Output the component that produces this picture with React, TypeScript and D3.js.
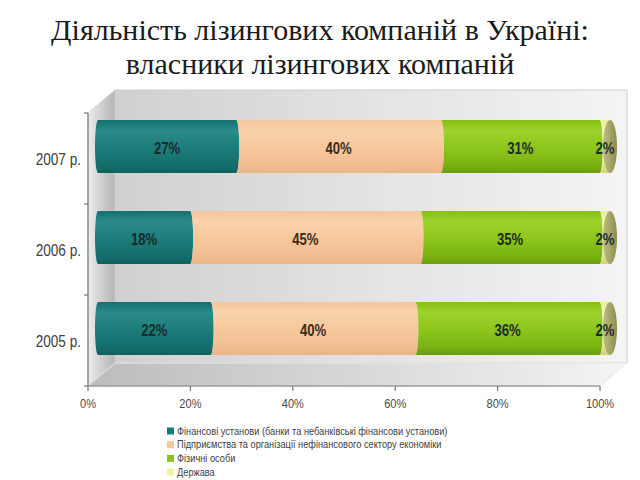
import React from "react";
import * as d3 from "d3";

const categories = ["2007 р.", "2006 р.", "2005 р."];
const seriesNames = [
  "Фінансові установи (банки та небанківські фінансови установи)",
  "Підприємства та організації нефінансового сектору економіки",
  "Фізичні особи",
  "Держава",
];
const financial = [27, 18, 22];
const enterprises = [40, 45, 40];
const individuals = [31, 35, 36];
const stateShare = [2, 2, 2];
const xTicks = [0, 20, 40, 60, 80, 100];
const titleLines = ["Діяльність лізингових компаній в Україні:", "власники лізингових компаній"];

const seriesColors = ["#177a78", "#f6c89e", "#8cc31c", "#f2f2a4"];
const gradStops: string[][] = [
  ["#15706e", "#2a8b89", "#1b7c7a", "#146e6c", "#0f6260"],
  ["#f3c69c", "#f9d2ab", "#f6c79b", "#f1be92", "#e9b488"],
  ["#86bf14", "#9dd32c", "#8bc41a", "#7ab212", "#6a9c0c"],
  ["#ecec9c", "#f6f6bc", "#efef9f", "#e4e48e", "#d2d27c"],
];

const W = 640;
const H = 480;
const ax0 = 88;
const ax1 = 600;
const ayTop = 113;
const ayBot = 386;
const wallDx = 27;
const wallDy = -23;
const barDx = 10;
const barDy = -12;
const sans = "'Liberation Sans', Arial, sans-serif";

export default function App() {
  const x = d3.scaleLinear().domain([0, 100]).range([ax0, ax1]);
  const y = d3.scaleBand<string>().domain(categories).range([ayTop, ayBot]).paddingInner(0).paddingOuter(0);
  const bw = y.bandwidth();
  const barH = bw * 0.58;
  const ry = barH / 2;
  const rxSeg = 3;
  const rxCap = 7;

  const series = [financial, enterprises, individuals, stateShare];
  const stackData = categories.map((c, i) => {
    const o: any = { cat: c };
    series.forEach((s, k) => (o["s" + k] = s[i]));
    return o;
  });
  const stack = d3.stack<any>().keys(["s0", "s1", "s2", "s3"])(stackData);

  const segPath = (xa: number, xb: number, top: number, bot: number, first: boolean, last: boolean) => {
    const rb = last ? rxCap : rxSeg;
    return `M${xa},${top}L${xb},${top}A${rb},${ry} 0 0 1 ${xb},${bot}L${xa},${bot}A${rxSeg},${ry} 0 0 ${first ? 1 : 0} ${xa},${top}Z`;
  };

  return (
    <svg width={W} height={H} style={{ display: "block", position: "absolute", left: 0, top: 0 }}>
      <defs>
        <linearGradient id="backWall" x1="0" y1="0" x2="1" y2="0">
          <stop offset="0" stopColor="#d0d0d0" />
          <stop offset="0.5" stopColor="#e3e3e3" />
          <stop offset="1" stopColor="#f4f4f4" />
        </linearGradient>
        <linearGradient id="sideWall" x1="0" y1="0" x2="1" y2="0">
          <stop offset="0" stopColor="#ececec" />
          <stop offset="0.35" stopColor="#d8d8d8" />
          <stop offset="1" stopColor="#b4b4b4" />
        </linearGradient>
        <linearGradient id="floor" x1="0" y1="0" x2="1" y2="0">
          <stop offset="0" stopColor="#bcbcbc" />
          <stop offset="0.5" stopColor="#d8d8d8" />
          <stop offset="1" stopColor="#f4f4f4" />
        </linearGradient>
        {gradStops.map((st, k) => (
          <linearGradient key={k} id={"cyl" + k} x1="0" y1="0" x2="0" y2="1">
            <stop offset="0" stopColor={st[0]} />
            <stop offset="0.2" stopColor={st[1]} />
            <stop offset="0.55" stopColor={st[2]} />
            <stop offset="0.85" stopColor={st[3]} />
            <stop offset="1" stopColor={st[4]} />
          </linearGradient>
        ))}
        <linearGradient id="cap" x1="0" y1="0" x2="1" y2="0">
          <stop offset="0" stopColor="#bebd82" />
          <stop offset="1" stopColor="#8c8b50" />
        </linearGradient>
      </defs>

      {/* title */}
      {titleLines.map((t, i) => (
        <text
          key={i}
          x={320}
          y={40 + i * 34}
          textAnchor="middle"
          fontFamily="'Liberation Serif', 'Times New Roman', serif"
          fontSize={30}
          fill="#1a1a1a"
        >
          {t}
        </text>
      ))}

      {/* 3D box */}
      <polygon
        points={`${ax0 + wallDx},${ayTop + wallDy} ${ax1 + wallDx},${ayTop + wallDy} ${ax1 + wallDx},${ayBot + wallDy} ${ax0 + wallDx},${ayBot + wallDy}`}
        fill="url(#backWall)"
        stroke="#cdcdcd"
        strokeWidth={1}
      />
      <polygon
        points={`${ax0},${ayTop} ${ax0 + wallDx},${ayTop + wallDy} ${ax0 + wallDx},${ayBot + wallDy} ${ax0},${ayBot}`}
        fill="url(#sideWall)"
        stroke="#d0d0d0"
        strokeWidth={0.8}
      />
      <polygon
        points={`${ax0},${ayBot} ${ax0 + wallDx},${ayBot + wallDy} ${ax1 + wallDx},${ayBot + wallDy} ${ax1},${ayBot}`}
        fill="url(#floor)"
        stroke="#e8e8e8"
        strokeWidth={1}
      />

      {/* bars */}
      {categories.map((c, i) => {
        const yc = (y(c) as number) + bw / 2 + barDy;
        const top = yc - ry;
        const bot = yc + ry;
        return (
          <g key={c}>
            {stack.map((layer, k) => {
              const [v0, v1] = layer[i];
              const xa = x(v0) + barDx;
              const xb = x(v1) + barDx;
              return (
                <path
                  key={k}
                  d={segPath(xa, xb, top, bot, k === 0, k === stack.length - 1)}
                  fill={`url(#cyl${k})`}
                />
              );
            })}
            <ellipse cx={x(100) + barDx} cy={yc} rx={rxCap} ry={ry} fill="url(#cap)" />
            {stack.map((layer, k) => {
              const [v0, v1] = layer[i];
              const tx = x((v0 + v1) / 2) + barDx;
              return (
                <text
                  key={"t" + k}
                  transform={`translate(${tx},${yc + 7}) scale(0.82,1)`}
                  textAnchor="middle"
                  fontFamily={sans}
                  fontWeight="bold"
                  fontSize={16}
                  fill={k === 1 ? "#3b2a1c" : "#1a2a2a"}
                >
                  {v1 - v0}%
                </text>
              );
            })}
          </g>
        );
      })}

      {/* axes */}
      <line x1={ax0} y1={ayTop} x2={ax0} y2={ayBot} stroke="#777" strokeWidth={1.2} />
      <line x1={ax0} y1={ayBot} x2={ax1} y2={ayBot} stroke="#777" strokeWidth={1.2} />
      {[ayTop, ...categories.map((c) => (y(c) as number) + bw)].map((ty, i) => (
        <line key={"yt" + i} x1={ax0 - 4} y1={ty} x2={ax0} y2={ty} stroke="#777" strokeWidth={1.2} />
      ))}
      {xTicks.map((t) => (
        <g key={"xt" + t}>
          <line x1={x(t)} y1={ayBot} x2={x(t)} y2={ayBot + 5} stroke="#777" strokeWidth={1.2} />
          <text
            transform={`translate(${x(t)},${ayBot + 22}) scale(0.85,1)`}
            textAnchor="middle"
            fontFamily={sans}
            fontSize={13}
            fill="#4a4a4a"
          >
            {t}%
          </text>
        </g>
      ))}
      {categories.map((c) => (
        <text
          key={"yl" + c}
          transform={`translate(${ax0 - 7},${(y(c) as number) + bw / 2 + 6}) scale(0.85,1)`}
          textAnchor="end"
          fontFamily={sans}
          fontSize={16}
          fill="#404040"
        >
          {c}
        </text>
      ))}

      {/* legend */}
      {seriesNames.map((n, k) => (
        <g key={"lg" + k} transform={`translate(167, ${431 + k * 13.7})`}>
          <rect x={0} y={-3.5} width={7} height={7} fill={seriesColors[k]} />
          <text transform="translate(10,3.5) scale(0.88,1)" fontFamily={sans} fontSize={10.5} fill="#404040">
            {n}
          </text>
        </g>
      ))}
    </svg>
  );
}
